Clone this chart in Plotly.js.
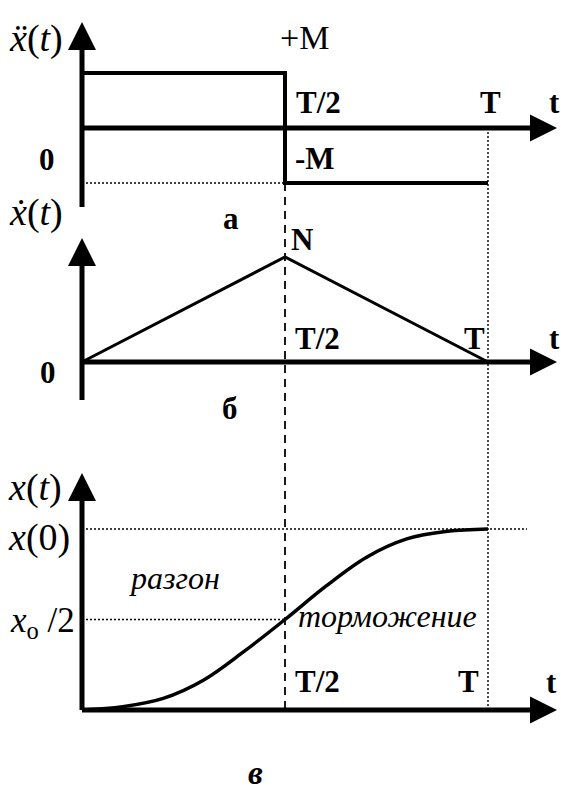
<!DOCTYPE html>
<html>
<head>
<meta charset="utf-8">
<script src="https://cdn.plot.ly/plotly-3.0.1.min.js"></script>
<style>
  html, body { margin: 0; padding: 0; background: #fff; }
  #chart { width: 561px; height: 792px; }
</style>
</head>
<body>
<div id="chart"></div>
<script>
// Time is measured in units of T; amplitudes in units of M, N and x(0).

// а) acceleration: +M on the first half, -M on the second half
const accelT = [0, 0.5, 0.5, 1];
const accelV = [1, 1, -1, -1];

// б) velocity: linear rise to N at T/2, back to zero at T
const velT = [0, 0.5, 1];
const velV = [0, 1, 0];

// в) position: S-shaped transfer from 0 to x(0)
const posT = [0, 0.1, 0.2, 0.3, 0.4, 0.5, 0.6, 0.7, 0.8, 0.9, 1];
const posV = [0, 0.018, 0.064, 0.166, 0.325, 0.5, 0.683, 0.843, 0.945, 0.987, 1];

// marked instants on the time axis
const tickT = [0.5, 1];
const tickLabels = ['T/2', 'T'];

// ---------------------------------------------------------------------------
const W = 561, H = 792;
const X0 = 82, XT = 488;                 // page columns of t = 0 and t = T
const pxPerT = XT - X0;
const xRange = [-X0 / pxPerT, (W - X0) / pxPerT];

// each panel: page row of its zero line and of its unit level
const panels = {
  a: { zero: 128, unit: 73 },
  b: { zero: 362, unit: 257 },
  c: { zero: 710, unit: 529 }
};
function rangeOf(p) {
  const k = p.zero - p.unit;
  return [(p.zero - H) / k, p.zero / k];
}
const rA = rangeOf(panels.a), rB = rangeOf(panels.b), rC = rangeOf(panels.c);
function toPaper(v, r) { return (v - r[0]) / (r[1] - r[0]); }
function tAtPx(px) { return (px - X0) / pxPerT; }
function vAtPx(py, p) { return (p.zero - py) / (p.zero - p.unit); }

const SERIF = 'Liberation Serif, Times New Roman, DejaVu Serif, serif';
const INK = '#000';

// axis extents (in each panel's own units)
const tArrow = tAtPx(557);
const axes = [
  { yref: 'y',  lo: vAtPx(207, panels.a), hi: vAtPx(22, panels.a) },
  { yref: 'y2', lo: vAtPx(400, panels.b), hi: vAtPx(238, panels.b) },
  { yref: 'y3', lo: 0,                    hi: vAtPx(473, panels.c) }
];

const shapes = [];
axes.forEach(a => {
  shapes.push({ type: 'line', xref: 'x', yref: a.yref, x0: 0, x1: 0, y0: a.lo, y1: a.hi - (a.hi - a.lo) * 0.05,
                line: { color: INK, width: 5 } });
  shapes.push({ type: 'line', xref: 'x', yref: a.yref, x0: 0, x1: tArrow - 0.03, y0: 0, y1: 0,
                line: { color: INK, width: 5 } });
});

// guide lines
const dotted = { color: INK, width: 1.4, dash: '2px,2px' };
const dashed = { color: INK, width: 1.8, dash: '8px,6px' };
// T/2 through all three panels, from -M down to the bottom axis
shapes.push({ type: 'line', xref: 'x', yref: 'paper', x0: 0.5, x1: 0.5,
              y0: toPaper(accelV[2], rA), y1: toPaper(0, rC), line: dashed });
// T through all three panels
shapes.push({ type: 'line', xref: 'x', yref: 'paper', x0: 1, x1: 1,
              y0: toPaper(0, rA), y1: toPaper(0, rC), line: dotted });
// -M level on the first half
shapes.push({ type: 'line', xref: 'x', yref: 'y', x0: 0, x1: 0.5, y0: -1, y1: -1, line: dotted });
// x(0) and x0/2 levels
shapes.push({ type: 'line', xref: 'x', yref: 'y3', x0: 0, x1: tAtPx(527), y0: 1, y1: 1, line: dotted });
shapes.push({ type: 'line', xref: 'x', yref: 'y3', x0: 0, x1: 0.5, y0: 0.5, y1: 0.5, line: dotted });

const traces = [
  { x: accelT, y: accelV, yaxis: 'y', mode: 'lines', line: { color: INK, width: 4 }, hoverinfo: 'skip' },
  { x: velT, y: velV, yaxis: 'y2', mode: 'lines', line: { color: INK, width: 3 }, hoverinfo: 'skip' },
  { x: posT, y: posV, yaxis: 'y3', mode: 'lines', line: { color: INK, width: 3.5, shape: 'spline', smoothing: 1 }, hoverinfo: 'skip' }
];

// arrow heads of the axes
axes.forEach(a => {
  traces.push({ x: [0], y: [a.hi], yaxis: a.yref, mode: 'markers', hoverinfo: 'skip',
                marker: { symbol: 'arrow-up', size: 28, color: INK, line: { width: 0 } } });
  traces.push({ x: [tArrow], y: [0], yaxis: a.yref, mode: 'markers', hoverinfo: 'skip',
                marker: { symbol: 'arrow-right', size: 27, color: INK, line: { width: 0 } } });
});

// text
const ann = [];
const LBL = 31;
function txt(text, x, y, opt) {
  ann.push(Object.assign({ text: text, x: x, y: y, xref: 'x', yref: 'y', showarrow: false,
                           xanchor: 'center', yanchor: 'middle',
                           font: { family: SERIF, size: LBL, color: INK } }, opt || {}));
}
function pageTxt(text, px, py, size, extra) {
  txt(text, px / W, 1 - py / H, Object.assign({ xref: 'paper', yref: 'paper',
      font: { family: SERIF, size: size, color: INK } }, extra || {}));
}
const bold = (s) => '<b>' + s + '</b>';

// panel а
pageTxt('<i>ẍ</i>(<i>t</i>)', 36, 39, 38);
txt('+M', 0.5, 1, { xshift: 19, yshift: 36, font: { family: SERIF, size: 34, color: INK } });
txt(bold(tickLabels[0]), tickT[0], 0, { xshift: 33, yshift: 26 });
txt(bold(tickLabels[1]), tickT[1], 0, { xshift: 2, yshift: 26 });
txt(bold('t'), tArrow, 0, { xshift: -3, yshift: 26 });
txt(bold('0'), 0, 0, { xshift: -35, yshift: -31 });
txt(bold('-M'), 0.5, -1, { xshift: 30, yshift: 25 });
pageTxt(bold('а'), 231, 218, LBL);

// panel б
pageTxt('<i>ẋ</i>(<i>t</i>)', 36, 212, 38);
txt(bold('N'), 0.5, 1, { yref: 'y2', xshift: 17, yshift: 18 });
txt(bold(tickLabels[0]), tickT[0], 0, { yref: 'y2', xshift: 32, yshift: 24 });
txt(bold(tickLabels[1]), tickT[1], 0, { yref: 'y2', xshift: -14, yshift: 24 });
txt(bold('t'), tArrow, 0, { yref: 'y2', xshift: -3, yshift: 24 });
txt(bold('0'), 0, 0, { yref: 'y2', xshift: -34, yshift: -10 });
pageTxt(bold('б'), 230, 408, LBL);

// panel в
pageTxt('<i>x</i>(<i>t</i>)', 35, 487, 38);
txt('<i>x</i>(0)', 0, 1, { yref: 'y3', xshift: -43, yshift: -8, font: { family: SERIF, size: 38, color: INK } });
txt('<i>x</i><sub>o</sub> /2', 0, 0.5, { yref: 'y3', xshift: -40, yshift: -3, font: { family: SERIF, size: 35, color: INK } });
pageTxt('<i>разгон</i>', 174, 578, 32);
pageTxt('<i>торможение</i>', 387, 616, 32);
txt(bold(tickLabels[0]), tickT[0], 0, { yref: 'y3', xshift: 32, yshift: 29 });
txt(bold(tickLabels[1]), tickT[1], 0, { yref: 'y3', xshift: -20, yshift: 29 });
txt(bold('t'), tArrow, 0, { yref: 'y3', xshift: -6, yshift: 28 });
pageTxt('<b><i>в</i></b>', 256, 773, 33);

const hidden = { visible: false, fixedrange: true };
const layout = {
  width: W, height: H,
  margin: { l: 0, r: 0, t: 0, b: 0, pad: 0 },
  paper_bgcolor: '#fff', plot_bgcolor: '#fff',
  showlegend: false,
  xaxis: Object.assign({ range: xRange, domain: [0, 1] }, hidden),
  yaxis: Object.assign({ range: rA, domain: [0, 1] }, hidden),
  yaxis2: Object.assign({ range: rB, overlaying: 'y', anchor: 'x' }, hidden),
  yaxis3: Object.assign({ range: rC, overlaying: 'y', anchor: 'x' }, hidden),
  shapes: shapes,
  annotations: ann
};

Plotly.newPlot('chart', traces, layout, { staticPlot: true, displayModeBar: false });
</script>
</body>
</html>
